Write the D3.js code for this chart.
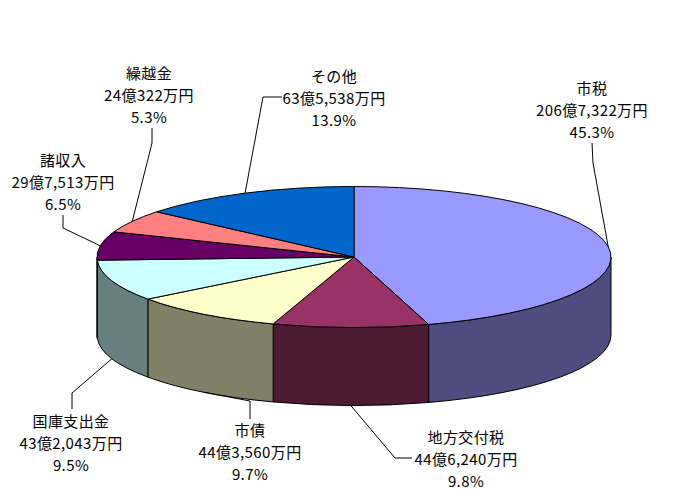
<!DOCTYPE html>
<html>
<head>
<meta charset="utf-8">
<script src="https://cdn.jsdelivr.net/npm/d3@7"></script>
<style>
  body { margin: 0; background: #fff; }
  svg text { font-family: "Noto Sans CJK JP", sans-serif; font-size: 15px; letter-spacing: 0.4px; fill: #000; }
</style>
</head>
<body>
<svg id="chart" width="678" height="504"></svg>
<script>
// 歳入の内訳（金額は万円）
const categories = ['市税', '地方交付税', '市債', '国庫支出金', '諸収入', '繰越金', 'その他'];
const amounts = [2067322, 446240, 443560, 432043, 297513, 240322, 635538];
const topColors = ['#9999ff', '#993366', '#ffffcc', '#ccffff', '#660066', '#ff8080', '#0066cc'];

// where each label sits (x, middle line y), and the first two points of its leader line
const labelLayout = {
  '市税':       { x: 592, y: 109, from: [592, 143], bend: [593, 163] },
  '地方交付税': { x: 466, y: 458, from: [412, 458], bend: [395, 458] },
  '市債':       { x: 250, y: 451, from: [250, 419], bend: [250, 401] },
  '国庫支出金': { x: 71,  y: 442, from: [72, 409],  bend: [72, 393] },
  '諸収入':     { x: 63,  y: 181, from: [63, 215],  bend: [63, 228] },
  '繰越金':     { x: 149, y: 94,  from: [152, 128], bend: [152, 143] },
  'その他':     { x: 334, y: 97,  from: [282, 97],  bend: [263, 97] }
};

const svg = d3.select('#chart');
const cx = 354, cy = 257, rx = 257, ry = 70.5, depth = 78;
const px = a => cx + rx * Math.sin(a);
const py = a => cy - ry * Math.cos(a);

const total = d3.sum(amounts);
const color = d3.scaleOrdinal().domain(categories).range(topColors);
const sideColor = name => {
  const c = d3.rgb(color(name));
  return d3.rgb(c.r * 0.5, c.g * 0.5, c.b * 0.5).formatHex();
};

const arcs = d3.pie().sort(null).value(d => d.value)(
  categories.map((name, i) => ({ name, value: amounts[i] }))
);

// front walls first (only the half facing us is visible)
arcs.forEach(d => {
  const a0 = Math.max(d.startAngle, Math.PI / 2);
  const a1 = Math.min(d.endAngle, Math.PI * 3 / 2);
  if (a1 <= a0) return;
  svg.append('path')
    .attr('d', `M${px(a0)},${py(a0)}A${rx},${ry} 0 0 1 ${px(a1)},${py(a1)}` +
               `L${px(a1)},${py(a1) + depth}A${rx},${ry} 0 0 0 ${px(a0)},${py(a0) + depth}Z`)
    .attr('fill', sideColor(d.data.name))
    .attr('stroke', '#000')
    .attr('stroke-width', 1);
});

// top faces
svg.selectAll('path.top')
  .data(arcs)
  .join('path')
  .attr('class', 'top')
  .attr('d', d => {
    const large = d.endAngle - d.startAngle > Math.PI ? 1 : 0;
    return `M${cx},${cy}L${px(d.startAngle)},${py(d.startAngle)}` +
           `A${rx},${ry} 0 ${large} 1 ${px(d.endAngle)},${py(d.endAngle)}Z`;
  })
  .attr('fill', d => color(d.data.name))
  .attr('stroke', '#000')
  .attr('stroke-width', 1);

// leader lines end at the middle of each slice, on the top rim or the bottom rim
const line = d3.line();
arcs.forEach(d => {
  const lay = labelLayout[d.data.name];
  const mid = (d.startAngle + d.endAngle) / 2;
  const anchor = [px(mid), py(mid) + (Math.cos(mid) < 0 ? depth : 0)];
  svg.append('path')
    .attr('d', line([lay.from, lay.bend, anchor]))
    .attr('fill', 'none')
    .attr('stroke', '#000')
    .attr('stroke-width', 1);
});

// labels, three lines each
const yen = v => `${Math.floor(v / 10000)}億${d3.format(',')(v % 10000)}万円`;
const pct = v => d3.format('.1f')(v / total * 100) + '%';
arcs.forEach(d => {
  const lay = labelLayout[d.data.name];
  [d.data.name, yen(d.data.value), pct(d.data.value)].forEach((s, i) => {
    svg.append('text')
      .attr('x', lay.x)
      .attr('y', lay.y + (i - 1) * 22)
      .attr('text-anchor', 'middle')
      .attr('dominant-baseline', 'central')
      .text(s);
  });
});
</script>
</body>
</html>
